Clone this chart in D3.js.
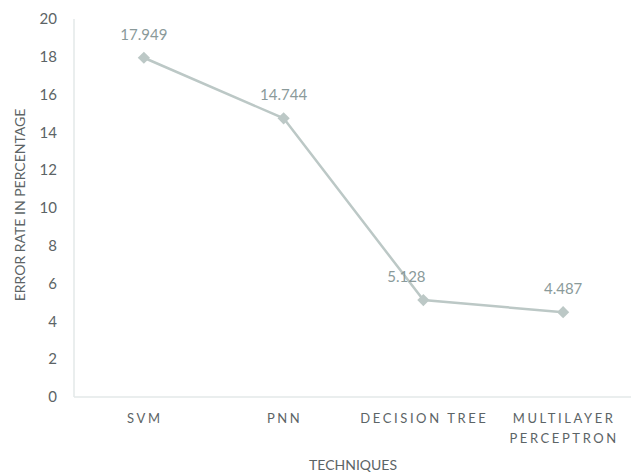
<!DOCTYPE html>
<html>
<head>
<meta charset="utf-8">
<script src="https://cdn.jsdelivr.net/npm/d3@7"></script>
<style>
  body { margin: 0; background: #fff; }
  svg text { font-family: Lato, "Open Sans", sans-serif; }
</style>
</head>
<body>
<div id="plot"></div>
<script>
const techniques = ["SVM", "PNN", "DECISION TREE", "MULTILAYER PERCEPTRON"];
const errorRates = [17.949, 14.744, 5.128, 4.487];
const yTicks = [0, 2, 4, 6, 8, 10, 12, 14, 16, 18, 20];

const w = 631;
const h = 474;

const data = techniques.map((t, i) => ({ name: t, value: errorRates[i] }));

const svg = d3.select("div#plot")
  .append("svg")
  .attr("width", w)
  .attr("height", h);

const xScale = d3.scaleBand().domain(techniques).range([74, 633]);
const yScale = d3.scaleLinear().domain([0, 20]).range([397, 19]);

// axes lines
svg.append("line")
  .attr("x1", 74).attr("x2", 74)
  .attr("y1", yScale(20)).attr("y2", yScale(0))
  .attr("stroke", "#e3e8e8").attr("stroke-width", 1.5);
svg.append("line")
  .attr("x1", 74).attr("x2", w)
  .attr("y1", yScale(0)).attr("y2", yScale(0))
  .attr("stroke", "#e3e8e8").attr("stroke-width", 1.5);

// y tick labels
svg.selectAll(".ytick")
  .data(yTicks)
  .enter()
  .append("text")
  .attr("class", "ytick")
  .attr("x", 57)
  .attr("y", d => yScale(d))
  .attr("dy", "0.35em")
  .attr("text-anchor", "end")
  .attr("font-size", 15)
  .attr("fill", "#5c6466")
  .text(d => d);

// x tick labels
const xLabels = svg.selectAll(".xtick")
  .data(techniques)
  .enter()
  .append("text")
  .attr("class", "xtick")
  .attr("text-anchor", "middle")
  .attr("font-size", 13)
  .attr("letter-spacing", "2.6px")
  .attr("fill", "#5c6466");

xLabels.each(function (d) {
  const words = d === "MULTILAYER PERCEPTRON" ? ["MULTILAYER", "PERCEPTRON"] : [d];
  const cx = xScale(d) + xScale.bandwidth() / 2 + 1;
  words.forEach((wd, i) => {
    d3.select(this).append("tspan")
      .attr("x", cx)
      .attr("y", 423 + i * 20)
      .text(wd);
  });
});

// axis titles
svg.append("text")
  .attr("x", 353)
  .attr("y", 470)
  .attr("text-anchor", "middle")
  .attr("font-size", 14)
  .attr("fill", "#5c6466")
  .text("TECHNIQUES");

svg.append("text")
  .attr("transform", `translate(25, 205) rotate(-90)`)
  .attr("text-anchor", "middle")
  .attr("font-size", 14)
  .attr("fill", "#5c6466")
  .text("ERROR RATE IN PERCENTAGE");

const line = d3.line()
  .x(d => xScale(d.name) + xScale.bandwidth() / 2)
  .y(d => yScale(d.value));

svg.append("path")
  .datum(data)
  .attr("fill", "none")
  .attr("stroke", "#bcc8c6")
  .attr("stroke-width", 2.5)
  .attr("d", line);

svg.selectAll(".marker")
  .data(data)
  .enter()
  .append("path")
  .attr("class", "marker")
  .attr("d", d3.symbol().type(d3.symbolDiamond2).size(95))
  .attr("transform", d => `translate(${xScale(d.name) + xScale.bandwidth() / 2}, ${yScale(d.value)})`)
  .attr("fill", "#bcc8c6");

svg.selectAll(".dlabel")
  .data(data)
  .enter()
  .append("text")
  .attr("class", "dlabel")
  .attr("x", (d, i) => xScale(d.name) + xScale.bandwidth() / 2 + (i === 2 ? -17 : 0))
  .attr("y", d => yScale(d.value) - 18)
  .attr("text-anchor", "middle")
  .attr("font-size", 15)
  .attr("fill", "#8a9a9a")
  .text(d => d.value.toFixed(3));
</script>
</body>
</html>
